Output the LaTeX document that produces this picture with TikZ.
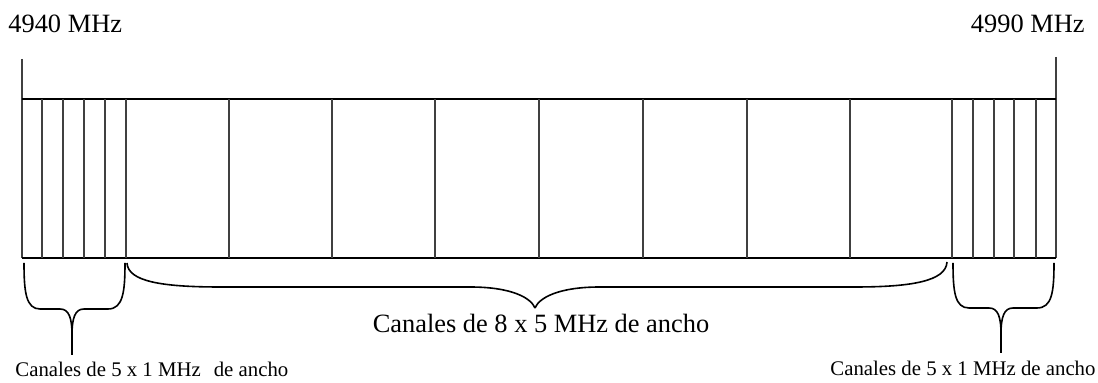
\documentclass[tikz,border=0pt]{standalone}
\usepackage{fontspec}
\setmainfont{Liberation Serif}
\usepackage{tikz}

\tikzset{
    band/.style={line width=0.75pt, black},
    chan/.style={line width=1.1pt, black!75},
    brace/.style={line width=0.8pt, black, line join=round},
    biglabel/.style={font=\fontsize{13.2}{15}\selectfont, inner sep=0pt},
    smalllabel/.style={font=\fontsize{10.4}{12}\selectfont, inner sep=0pt}
}

\begin{document}
\begin{tikzpicture}[x=0.5pt, y=-0.5pt]
    \useasboundingbox (0,0) rectangle (1098,383);
    % band edges
    \node[biglabel, anchor=base west] (lowfreq) at (8,33) {4940 MHz};
    \node[biglabel, anchor=base east] (highfreq) at (1085,33) {4990 MHz};
    \draw[chan] (22,59) -- (22,258);
    \draw[chan] (1056,57) -- (1056,258);
    \draw[band] (22,99) -- (1056,99);
    \draw[band] (22,258) -- (1056,258);
    % 1 MHz channels
    \foreach \x in {42,63,84,105,126} {
        \draw[chan] (\x,99) -- (\x,258);
    }
    \foreach \x in {973,994,1014,1036} {
        \draw[chan] (\x,99) -- (\x,258);
    }
    % 5 MHz channels
    \foreach \x in {229,332,435,539,643,747,850,952} {
        \draw[chan] (\x,99) -- (\x,258);
    }
    % braces
    \coordinate (tipleft) at (72,355);
    \coordinate (tipmid) at (535,308);
    \coordinate (tipright) at (1001,353);
    \draw[brace] (24,263) .. controls (24,292) and (26,309) .. (40,309) -- (60,309)
        .. controls (69,309) and (72,318) .. (72,335) -- (tipleft);
    \draw[brace] (125,263) .. controls (125,292) and (123,309) .. (108,309) -- (84,309)
        .. controls (75,309) and (72,318) .. (72,335);
    \draw[brace] (127,263) .. controls (128,281) and (160,287) .. (220,287) -- (470,287)
        .. controls (512,287) and (531,298) .. (tipmid);
    \draw[brace] (947,262) .. controls (946,281) and (912,287) .. (855,287) -- (600,287)
        .. controls (558,287) and (539,298) .. (tipmid);
    \draw[brace] (953,263) .. controls (953,292) and (955,308) .. (969,308) -- (989,308)
        .. controls (998,308) and (1001,317) .. (1001,334) -- (tipright);
    \draw[brace] (1054,263) .. controls (1054,292) and (1052,308) .. (1037,308) -- (1013,308)
        .. controls (1004,308) and (1001,317) .. (1001,334);
    % labels
    \node[biglabel, anchor=base] (widelabel) at (541,333) {Canales de 8 x 5 MHz de ancho};
    \node[smalllabel, anchor=base west] (narrowleft) at (15,377) {Canales de 5 x 1 MHz\hspace{6.5pt}de ancho};
    \node[smalllabel, anchor=base west] (narrowright) at (830,376) {Canales de 5 x 1 MHz de ancho};
\end{tikzpicture}
\end{document}
